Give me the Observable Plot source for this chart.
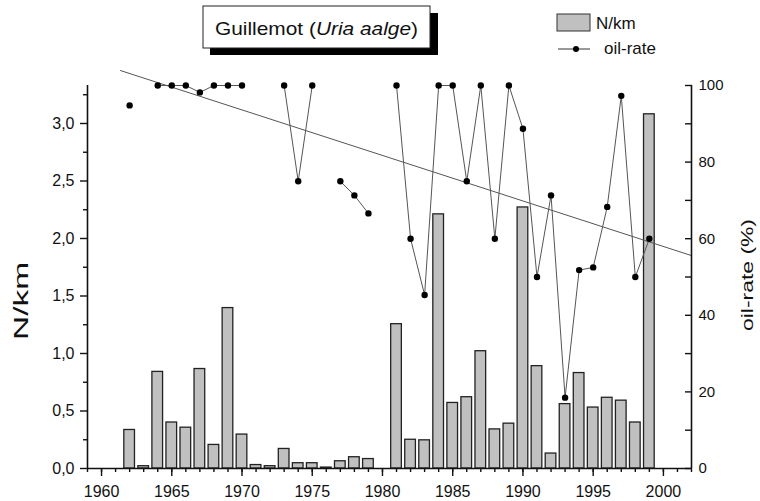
<!DOCTYPE html>
<html><head><meta charset="utf-8">
<script src="https://cdn.jsdelivr.net/npm/d3@7"></script>
<script src="https://cdn.jsdelivr.net/npm/@observablehq/plot@0.6"></script>
<style>
html,body{margin:0;padding:0;background:#fff;}
#chart svg{display:block;}
</style>
</head><body><div id="chart"></div>
<script>
// ---- data ----
const years = [1962,1963,1964,1965,1966,1967,1968,1969,1970,1971,1972,1973,1974,1975,1976,1977,1978,1979,1980,
               1981,1982,1983,1984,1985,1986,1987,1988,1989,1990,1991,1992,1993,1994,1995,1996,1997,1998,1999];
const nkm = [0.335,0.02,0.84,0.40,0.355,0.865,0.205,1.395,0.295,0.03,0.02,0.17,0.046,0.046,0.008,0.063,0.098,0.082,0,
             1.255,0.25,0.245,2.21,0.57,0.62,1.02,0.34,0.39,2.27,0.89,0.13,0.56,0.83,0.53,0.615,0.59,0.40,3.08];
const oilRate = [94.8,null,100,100,100,98.2,100,100,100,null,null,100,75,100,null,75,71.3,66.6,null,
                 100,60,45.3,100,100,75,100,60,100,88.7,50,71.3,18.5,51.8,52.5,68.3,97.3,50,60];
const xTicksMajor = [1960,1965,1970,1975,1980,1985,1990,1995,2000];
const yTicksMajor = [0,0.5,1.0,1.5,2.0,2.5,3.0];
const yTicksMinor = [0.25,0.75,1.25,1.75,2.25,2.75,3.25];
const oilTicksMajor = [0,20,40,60,80,100];
const oilTicksMinor = [10,30,50,70,90];
const trendYears = [1961.35, 2002];

// ---- scales ----
const xDomain = [1959, 2002];
const yMax = 3.3304;          // N/km at top of frame
const K = yMax / 100;         // oil-rate (%) -> N/km units (right axis 0..100)

const rows = years.map((year, i) => ({year, n: nkm[i], oil: oilRate[i]}));
const pts = rows.filter(d => d.oil != null);
const mx = d3.mean(pts, d => d.year), my = d3.mean(pts, d => d.oil);
const slope = d3.sum(pts, d => (d.year - mx) * (d.oil - my)) / d3.sum(pts, d => (d.year - mx) ** 2);
const trend = trendYears.map(x => ({year: x, oil: my + slope * (x - mx)}));
const allYears = d3.range(xDomain[0], xDomain[1] + 1);

const ink = "#111";
const chart = Plot.plot({
  width: 760, height: 501,
  marginLeft: 87, marginRight: 69, marginTop: 85, marginBottom: 33,
  style: {fontFamily: "'Liberation Sans', Arial, sans-serif", fontSize: "16px", color: ink, background: "#fff", overflow: "visible"},
  x: {domain: xDomain},
  y: {domain: [0, yMax]},
  marks: [
    Plot.rect(rows.filter(d => d.n > 0), {x1: d => d.year - 0.38, x2: d => d.year + 0.38, y1: 0, y2: "n",
      fill: "#c0c0c0", stroke: "#222", strokeWidth: 1.3}),
    Plot.line(trend, {x: "year", y: d => d.oil * K, stroke: "#555", strokeWidth: 1}),
    Plot.line(rows, {x: "year", y: d => d.oil == null ? NaN : d.oil * K, stroke: "#555", strokeWidth: 1}),
    Plot.dot(pts, {x: "year", y: d => d.oil * K, r: 3.2, fill: "#000"}),
    Plot.ruleX([xDomain[0]], {stroke: ink, strokeWidth: 1.6}),
    Plot.ruleX([xDomain[1]], {stroke: ink, strokeWidth: 1.6}),
    Plot.ruleY([0], {stroke: ink, strokeWidth: 1.6}),
    // bottom axis
    Plot.axisX({ticks: allYears, tickSize: 4, tickFormat: () => "", label: null, strokeWidth: 1.4}),
    Plot.axisX({ticks: xTicksMajor, tickSize: 8, tickPadding: 9, tickFormat: d => String(d), label: null, strokeWidth: 1.4, fontSize: 16}),
    // left axis
    Plot.axisY({anchor: "left", ticks: yTicksMinor, tickSize: 4, tickFormat: () => "", label: null, strokeWidth: 1.4}),
    Plot.axisY({anchor: "left", ticks: yTicksMajor, tickSize: 7, tickPadding: 6,
      tickFormat: d => d.toFixed(1).replace(".", ","), label: null, strokeWidth: 1.4, fontSize: 16}),
    // right axis (inward ticks)
    Plot.axisY({anchor: "right", ticks: oilTicksMajor.concat(oilTicksMinor).map(v => v * K), tickSize: -7,
      tickFormat: () => "", label: null, strokeWidth: 1.4}),
    Plot.axisY({anchor: "right", ticks: oilTicksMajor.map(v => v * K), tickSize: 0, tickPadding: 7,
      tickFormat: d => String(Math.round(d / K)), label: null, fontSize: 15})
  ]
});
document.getElementById("chart").appendChild(chart);

// ---- title box, legend and axis titles ----
const svg = d3.select(chart);
const font = "'Liberation Sans', Arial, sans-serif";
const tg = svg.append("g").attr("font-family", font).attr("fill", ink);
tg.append("rect").attr("x", 210).attr("y", 13).attr("width", 228).attr("height", 42).attr("fill", "#000");
tg.append("rect").attr("x", 203).attr("y", 6).attr("width", 227).attr("height", 42).attr("fill", "#fff").attr("stroke", "#222");
const tt = tg.append("text").attr("x", 316.5).attr("y", 35).attr("text-anchor", "middle").attr("font-size", 19)
  .attr("textLength", 203).attr("lengthAdjust", "spacingAndGlyphs");
tt.append("tspan").text("Guillemot (");
tt.append("tspan").attr("font-style", "italic").text("Uria aalge");
tt.append("tspan").text(")");

const lg = svg.append("g").attr("font-family", font).attr("fill", ink).attr("font-size", 17).attr("text-anchor", "start");
lg.append("rect").attr("x", 557).attr("y", 14).attr("width", 33).attr("height", 17).attr("fill", "#c0c0c0").attr("stroke", "#333");
lg.append("text").attr("x", 596).attr("y", 29).attr("text-anchor", "start").text("N/km");
lg.append("line").attr("x1", 558).attr("x2", 590).attr("y1", 49).attr("y2", 49).attr("stroke", "#333");
lg.append("circle").attr("cx", 576).attr("cy", 49).attr("r", 3).attr("fill", "#000");
lg.append("text").attr("x", 604).attr("y", 54).attr("text-anchor", "start").text("oil-rate");

svg.append("text").attr("transform", "translate(28,301) rotate(-90)").attr("text-anchor", "middle")
  .attr("font-family", font).attr("font-size", 21).attr("fill", ink)
  .attr("textLength", 78).attr("lengthAdjust", "spacingAndGlyphs").text("N/km");
svg.append("text").attr("transform", "translate(753,275) rotate(-90)").attr("text-anchor", "middle")
  .attr("font-family", font).attr("font-size", 16).attr("fill", ink)
  .attr("textLength", 112).attr("lengthAdjust", "spacingAndGlyphs").text("oil-rate (%)");
</script>
</body></html>
